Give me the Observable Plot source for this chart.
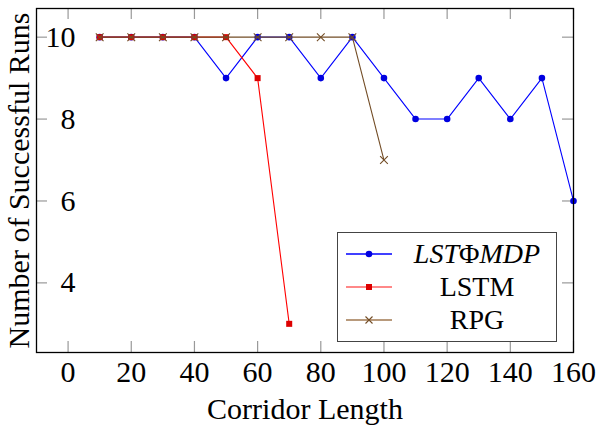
<!DOCTYPE html>
<html>
<head>
<meta charset="utf-8">
<script src="https://cdn.jsdelivr.net/npm/d3@7"></script>
<script src="https://cdn.jsdelivr.net/npm/@observablehq/plot@0.6"></script>
<style>
  body { margin: 0; background: #fff; }
  #wrap { position: relative; width: 597px; height: 425px; overflow: hidden; }
  #wrap svg text { font-family: "Liberation Serif", "DejaVu Serif", serif; }
  #legend {
    position: absolute; left: 337px; top: 232px; width: 218px; height: 108px;
    border: 1.3px solid #444; background: #fff;
    font-family: "Liberation Serif", "DejaVu Serif", serif; font-size: 28px; color: #000;
  }
  .row { position: absolute; left: 0; width: 218px; height: 30px; }
  .row svg { position: absolute; left: 8px; top: 0; }
  .row span { position: absolute; left: 60px; right: 0; text-align: center; line-height: 30px; }
</style>
</head>
<body>
<div id="wrap"></div>
<script>
const lengths = [10, 20, 30, 40, 50, 60, 70, 80, 90, 100, 110, 120, 130, 140, 150, 160];
const lstphiRuns = [10, 10, 10, 10, 9, 10, 10, 9, 10, 9, 8, 8, 9, 8, 9, 6];
const lstmLengths = [10, 20, 30, 40, 50, 60, 70];
const lstmRuns = [10, 10, 10, 10, 10, 9, 3];
const rpgLengths = [10, 20, 30, 40, 50, 60, 70, 80, 90, 100];
const rpgRuns = [10, 10, 10, 10, 10, 10, 10, 10, 10, 7];
const xTicks = [0, 20, 40, 60, 80, 100, 120, 140, 160];
const yTicks = [4, 6, 8, 10];
const xLabel = "Corridor Length";
const yLabel = "Number of Successful Runs";

const blue = "#0000ff", red = "#ff0000", brown = "#734d26";
const toRows = (xs, ys) => xs.map((x, i) => ({x, y: ys[i]}));
const lst = toRows(lengths, lstphiRuns);
const lstm = toRows(lstmLengths, lstmRuns);
const rpg = toRows(rpgLengths, rpgRuns);

const W = 597, H = 425, mL = 36, mR = 24, mT = 8, mB = 73;
const ih = H - mT - mB, iw = W - mL - mR, tl = 11;
const font = "'Liberation Serif', 'DejaVu Serif', serif";

const chart = Plot.plot({
  width: W, height: H,
  marginLeft: mL, marginRight: mR, marginTop: mT, marginBottom: mB,
  style: {fontFamily: font, background: "#fff", overflow: "visible"},
  x: {domain: [-10, 160], axis: null},
  y: {domain: [2.3, 10.7], axis: null},
  marks: [
    Plot.ruleX(xTicks, {x: d => d, insetTop: ih - tl, stroke: "#999", strokeWidth: 1.2}),
    Plot.ruleX(xTicks, {x: d => d, insetBottom: ih - tl, stroke: "#999", strokeWidth: 1.2}),
    Plot.ruleY(yTicks, {y: d => d, insetRight: iw - tl, stroke: "#999", strokeWidth: 1.2}),
    Plot.ruleY(yTicks, {y: d => d, insetLeft: iw - tl, stroke: "#999", strokeWidth: 1.2}),
    Plot.text(xTicks, {x: d => d, text: d => String(d), frameAnchor: "bottom", dy: 29, fontSize: 30, fontFamily: font, fill: "#000"}),
    Plot.text(yTicks, {y: d => d, text: d => String(d), frameAnchor: "left", dx: 39, textAnchor: "end", fontSize: 30, fontFamily: font, fill: "#000"}),
    Plot.line(lst, {x: "x", y: "y", stroke: blue, strokeWidth: 1.1}),
    Plot.dot(lst, {x: "x", y: "y", symbol: "circle", r: 3.3, fill: "#0000e0", stroke: "none"}),
    Plot.line(lstm, {x: "x", y: "y", stroke: red, strokeWidth: 1.1}),
    Plot.dot(lstm, {x: "x", y: "y", symbol: "square", r: 3.4, fill: "#dd0000", stroke: "none"}),
    Plot.line(rpg, {x: "x", y: "y", stroke: brown, strokeWidth: 1.1}),
    Plot.dot(rpg, {x: "x", y: "y", symbol: "times", r: 3.6, stroke: brown, strokeWidth: 1.1}),
    Plot.frame({stroke: "#000", strokeWidth: 1.3}),
    Plot.text([xLabel], {text: d => d, frameAnchor: "bottom", dy: 66, fontSize: 30, fontFamily: font, fill: "#000"}),
    Plot.text([yLabel], {text: d => d, frameAnchor: "left", textAnchor: "middle", dx: -17, rotate: -90, fontSize: 30, fontFamily: font, fill: "#000"})
  ]
});
const wrap = document.getElementById("wrap");
wrap.appendChild(chart);

const legendItems = [
  {label: "<i>LST</i>Φ<i>MDP</i>", color: blue, mark: "circle", fill: "#0000e0"},
  {label: "LSTM", color: "#ff6060", mark: "square", fill: "#dd0000"},
  {label: "RPG", color: "#a07850", mark: "times", fill: brown}
];
const legend = document.createElement("div");
legend.id = "legend";
legendItems.forEach((it, i) => {
  const row = document.createElement("div");
  row.className = "row";
  row.style.top = (6 + i * 33) + "px";
  let m = "";
  if (it.mark === "circle") m = `<circle cx="23" cy="15" r="3.3" fill="${it.fill}"/>`;
  else if (it.mark === "square") m = `<rect x="20" y="12" width="6" height="6" fill="${it.fill}"/>`;
  else m = `<path d="M19.5 11.5L26.5 18.5M26.5 11.5L19.5 18.5" stroke="${it.fill}" stroke-width="1.1"/>`;
  row.innerHTML = `<svg width="48" height="30"><line x1="0" y1="15" x2="46" y2="15" stroke="${it.color}" stroke-width="1.5"/>${m}</svg><span>${it.label}</span>`;
  legend.appendChild(row);
});
wrap.appendChild(legend);
</script>
</body>
</html>
